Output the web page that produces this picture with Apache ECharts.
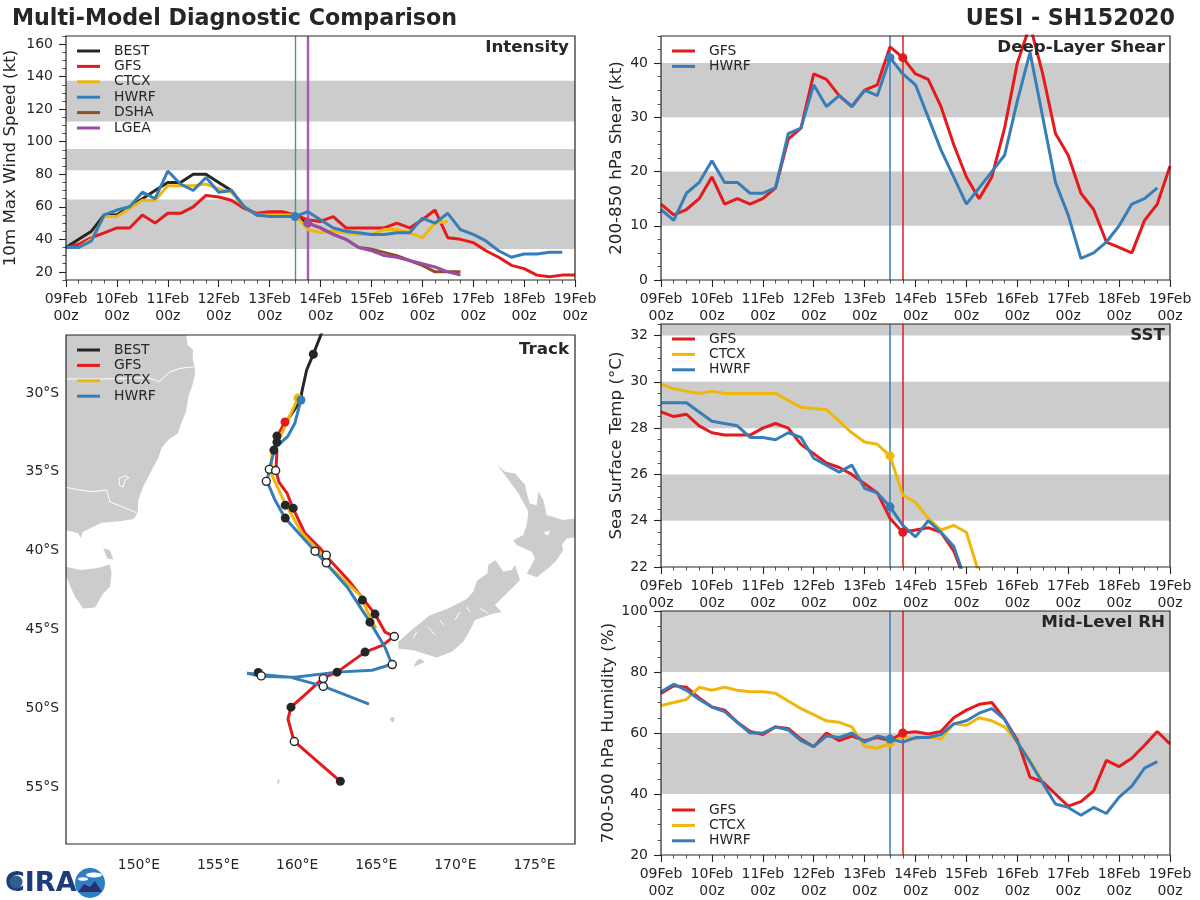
<!DOCTYPE html>
<html>
<head>
<meta charset="utf-8">
<title>UESI - SH152020</title>
<script src="https://cdn.jsdelivr.net/npm/echarts@6/dist/echarts.min.js"></script>
<style>
html,body{margin:0;padding:0;background:#fff}
#main{width:1200px;height:900px}
</style>
</head>
<body>
<div id="main"></div>
<script>
// hours since 09Feb 00z, every 6h
var hours = [0,6,12,18,24,30,36,42,48,54,60,66,72,78,84,90,96,102,108,114,120,126,132,138,144,150,156,162,168,174,180,186,192,198,204,210,216,222,228,234,240];
var dayTicks = [0,24,48,72,96,120,144,168,192,216,240];
var dayLabels = ['09Feb\n00z','10Feb\n00z','11Feb\n00z','12Feb\n00z','13Feb\n00z','14Feb\n00z','15Feb\n00z','16Feb\n00z','17Feb\n00z','18Feb\n00z','19Feb\n00z'];

// intensity (kt)
var intBest = [35,40,45,55,55,60,65,70,75,75,80,80,75,70,60,55,55,55,55,50];
var intGfs = [35,37,41,44,47,47,55,50,56,56,60,67,66,64,59,56,57,57,55,52,51,54,47,47,47,47,50,47,52,58,41,40,38,33,29,24,22,18,17,18,18];
var intCtcx = [35,35,40,54,54,59,64,64,73,73,73,74,71,69,60,55,55,55,55,46,44,45,44,43,43,46,46,44,41,50,51];
var intHwrf = [35,35,39,55,58,60,69,65,82,74,70,78,69,70,60,55,54,54,54,57,52,47,45,44,43,43,44,44,53,50,56,46,43,39,33,29,31,31,32,32];
var intDsha = [null,null,null,null,null,null,null,null,null,null,null,null,null,null,null,null,null,null,null,50,47,43,40,35,34,32,30,27,24,20,20,20];
var intLgea = [null,null,null,null,null,null,null,null,null,null,null,null,null,null,null,null,null,null,null,50,47,43,40,35,33,30,29,27,25,23,20,18];
var intBands = [[34,64.5],[82.5,95.5],[112.5,137.5]];
var intTicks = [20,40,60,80,100,120,140,160];

// deep-layer shear (kt)
var shearGfs = [14,12,13,15,19,14,15,14,15,17,26,28,38,37,34,32,35,36,43,41,38,37,32,25,19,15,19,28,40,47,38,27,23,16,13,7,6,5,11,14,21];
var shearHwrf = [13,11,16,18,22,18,18,16,16,17,27,28,36,32,34,32,35,34,41,38,36,30,24,19,14,17,20,23,33,42,30,18,12,4,5,7,10,14,15,17];
var shearBands = [[10,20],[30,40]];
var shearTicks = [0,10,20,30,40];

// sea surface temp (C)
var sstGfs = [28.7,28.5,28.6,28.1,27.8,27.7,27.7,27.7,28.0,28.2,28.0,27.3,26.9,26.5,26.3,26.0,25.6,25.2,24.1,23.5,23.6,23.7,23.5,22.7,21.3];
var sstCtcx = [29.9,29.7,29.6,29.5,29.6,29.5,29.5,29.5,29.5,29.5,29.2,28.9,28.85,28.8,28.3,27.8,27.4,27.3,26.8,25.1,24.8,24.1,23.6,23.8,23.5,21.7];
var sstHwrf = [29.1,29.1,29.1,28.7,28.3,28.2,28.1,27.6,27.6,27.5,27.8,27.6,26.7,26.4,26.1,26.4,25.4,25.2,24.6,23.8,23.3,24.0,23.5,22.9,21.3];
var sstBands = [[24,26],[28,30],[32,32.5]];
var sstTicks = [22,24,26,28,30,32];

// mid-level RH (%)
var rhGfs = [73,75.5,75,71.5,68.5,67.5,63.5,60.5,59.5,62,61.5,58,55.5,60,57.5,59,57.5,58.5,57.5,60,60.4,59.7,60.5,65,67.5,69.4,70,64.5,57.7,45.5,44,40,36,37.5,41,51,49,51.7,56,60.5,56.4];
var rhCtcx = [69,70,71,75,74,75,74,73.5,73.5,73,70.5,68,66,64,63.5,62,55.6,55,56.6,58.8,58,58.8,58,63,62.5,65,64,62,57,51,44];
var rhHwrf = [73.5,76,74,71,68.5,67,63.5,60,60,62,61,57.5,55.5,59,58.5,60,57,59,58,57,58.5,58.5,59.5,63,64,66.5,68,64.5,57,50.5,43.5,36.7,35.6,33,35.6,33.6,39,42.6,48.5,50.6];
var rhBands = [[40,60],[80,100]];
var rhTicks = [20,40,60,80,100];

// tracks, [lon, lat]
var trackBest = [[161.57,-26.13],[161.02,-27.54],[160.60,-28.54],[160.28,-30.0],[160.24,-30.44],[159.17,-32.03]];
var trackGfs = [[159.23,-31.84],[158.72,-32.79],[158.60,-33.43],[158.72,-33.74],[158.66,-34.89],[158.85,-35.65],[159.36,-36.35],[159.73,-37.30],[160.49,-38.88],[161.44,-39.83],[162.07,-40.60],[163.34,-41.99],[164.92,-44.02],[165.55,-45.16],[166.12,-45.42],[165.42,-45.99],[164.29,-46.43],[162.52,-47.70],[161.63,-48.08],[160.68,-48.97],[159.61,-49.92],[159.42,-50.68],[159.80,-52.08],[162.71,-54.62]];
var trackCtcx = [[160.05,-30.32],[159.42,-31.71],[158.91,-32.79],[158.41,-33.81],[158.34,-35.08],[159.23,-36.98],[160.30,-38.88],[161.76,-40.47],[162.07,-41.04],[163.97,-42.82],[164.60,-44.21],[164.98,-44.91]];
var trackHwrf = [[160.24,-30.44],[159.86,-31.90],[159.42,-32.73],[158.60,-33.49],[158.34,-34.44],[158.09,-35.58],[158.60,-36.79],[159.23,-37.93],[161.13,-40.03],[161.82,-40.79],[163.21,-42.37],[164.60,-44.53],[165.55,-46.12],[165.99,-47.20],[164.73,-47.58],[162.52,-47.70],[159.86,-48.02],[157.71,-47.96],[156.83,-47.77],[159.54,-48.02],[161.63,-48.59],[164.54,-49.73]];
var trackBlack = [[161.02,-27.54],[158.72,-32.73],[158.72,-33.11],[158.53,-33.62],[159.25,-37.11],[159.75,-37.30],[159.25,-37.93],[164.12,-43.13],[164.92,-44.02],[164.60,-44.53],[164.29,-46.43],[162.52,-47.70],[157.54,-47.72],[159.61,-49.92],[162.73,-54.62]];
var trackWhite = [[158.24,-34.84],[158.64,-34.91],[158.05,-35.60],[161.13,-40.03],[161.84,-40.28],[161.84,-40.77],[166.14,-45.44],[166.01,-47.22],[161.65,-48.11],[161.65,-48.61],[157.73,-47.94],[159.82,-52.10]];
var lonTicks = [150,155,160,165,170,175];
var latTicks = [-30,-35,-40,-45,-50,-55];

// land outlines, [lon, lat]
var australia = [[145.39,-26.32],[153.0,-26.32],[153.08,-26.95],[153.43,-27.27],[153.39,-27.78],[153.52,-28.33],[153.54,-28.86],[153.35,-29.60],[153.12,-30.23],[152.97,-31.19],[152.59,-32.14],[152.48,-32.54],[151.85,-32.98],[151.43,-33.49],[151.22,-34.12],[150.70,-35.08],[150.27,-35.95],[149.96,-36.79],[149.92,-37.59],[149.68,-37.99],[149.01,-38.10],[148.38,-38.17],[147.64,-38.23],[147.11,-38.48],[146.48,-38.80],[146.31,-39.20],[146.16,-38.90],[145.53,-38.74],[145.39,-38.72]];
var tasmania = [[145.39,-41.02],[146.27,-41.23],[147.33,-41.12],[148.17,-40.87],[148.27,-41.44],[148.17,-42.29],[147.74,-42.71],[147.22,-43.60],[146.48,-43.66],[145.95,-42.92],[145.58,-42.06],[145.39,-41.61]];
var flinders = [[147.74,-39.85],[148.17,-39.96],[148.38,-40.55],[148.0,-40.49]];
var nzNorth = [[172.61,-34.52],[173.13,-34.99],[173.77,-35.10],[174.42,-35.84],[174.46,-36.15],[174.70,-37.0],[175.14,-37.11],[175.24,-36.26],[175.56,-36.79],[175.77,-37.74],[176.82,-38.06],[177.56,-37.95],[177.56,-39.16],[177.04,-39.22],[176.72,-39.64],[176.82,-39.96],[176.40,-40.6],[175.87,-41.12],[175.14,-41.69],[174.51,-41.44],[175.03,-40.49],[174.82,-40.07],[173.87,-39.64],[173.66,-39.33],[174.29,-39.01],[174.51,-38.38],[174.61,-37.53],[174.51,-37.32],[173.98,-36.36],[173.13,-35.20]];
var nzSouth = [[172.50,-40.6],[172.08,-40.91],[172.02,-41.44],[171.38,-41.87],[171.13,-42.61],[170.71,-43.07],[169.55,-43.66],[168.39,-44.09],[167.34,-44.93],[166.39,-45.78],[166.39,-46.20],[167.34,-46.31],[168.82,-46.77],[169.77,-46.41],[170.50,-45.78],[170.92,-45.04],[171.24,-44.40],[172.40,-43.98],[172.93,-43.91],[172.50,-43.45],[173.24,-42.71],[174.08,-41.87],[173.77,-40.91],[173.56,-41.23],[173.03,-41.34],[172.61,-40.70]];
var stewart = [[167.76,-46.83],[168.08,-47.05],[167.34,-47.37],[167.55,-46.99]];
var aucklandIs = [[165.85,-50.6],[166.15,-50.55],[166.1,-50.9],[165.95,-50.85]];
var macquarie = [[158.78,-54.5],[158.9,-54.5],[158.85,-54.8],[158.75,-54.8]];
var taupo = [[175.6,-38.8],[175.95,-38.75],[175.9,-39.0],[175.7,-39.0]];
var landShapes = [australia,tasmania,flinders,nzNorth,nzSouth,stewart,aucklandIs,macquarie];
var borders = [
	[[145.39,-29.11],[147.74,-29.11],[150.59,-29.03],[151.28,-29.28],[151.96,-28.65],[152.59,-28.44],[153.48,-28.33]],
	[[145.39,-35.98],[146.27,-36.15],[147.11,-36.26],[147.96,-36.15],[148.17,-36.90],[149.85,-37.59]],
	[[148.75,-35.41],[149.12,-35.25],[149.37,-35.37],[149.12,-35.52],[149.01,-35.95],[148.75,-35.84],[148.75,-35.41]],
	[[168.29,-44.83],[168.71,-45.35]],
	[[169.03,-44.40],[169.24,-44.72]],
	[[169.97,-44.40],[170.29,-43.88]],
	[[170.71,-43.56],[170.92,-43.88]],
	[[171.55,-43.66],[172.08,-43.98]],
	[[167.55,-45.15],[167.34,-45.57]]
];

var BLACK = '#262626', RED = '#e41a1c', YELLOW = '#efb70e', BLUE = '#377eb8', BROWN = '#8f4f26', PURPLE = '#984ea3', GRAY = '#cccccc';
var FONT = 'DejaVu Sans';

var panels = [
	{left:66,top:36,width:509,height:244},
	{left:661,top:36,width:509,height:244},
	{left:661,top:324,width:509,height:243},
	{left:661,top:611,width:509,height:244},
	{left:66,top:335,width:509,height:509}
];

function timeAxis(i){
	return {
		type:'value', gridIndex:i, min:0, max:240, interval:24,
		axisLine:{show:false}, splitLine:{show:false},
		axisTick:{length:7,lineStyle:{color:BLACK,width:1.1}},
		minorTick:{show:true,splitNumber:4,length:3.5,lineStyle:{color:BLACK,width:0.8}},
		axisLabel:{color:BLACK,fontFamily:FONT,fontSize:14,lineHeight:17,margin:11,
			formatter:function(v){ return dayLabels[dayTicks.indexOf(v)]; }}
	};
}

// labelled ticks on one axis, short ticks on a second one in the same grid
function valueAxes(i,min,max,ticks,minorStep,name,nameGap){
	return [{
		type:'value', gridIndex:i, min:min, max:max, position:'left',
		name:name, nameLocation:'middle', nameGap:nameGap,
		nameTextStyle:{color:BLACK,fontFamily:FONT,fontSize:16.7},
		axisLine:{show:false}, splitLine:{show:false},
		axisTick:{length:7,customValues:ticks,lineStyle:{color:BLACK,width:1.1}},
		axisLabel:{color:BLACK,fontFamily:FONT,fontSize:14,margin:13,customValues:ticks}
	},{
		type:'value', gridIndex:i, min:min, max:max, interval:minorStep, position:'left',
		axisLine:{show:false}, splitLine:{show:false}, axisLabel:{show:false},
		axisTick:{length:3.5,lineStyle:{color:BLACK,width:0.8}}
	}];
}

function guides(i,bands,lines){
	return {
		type:'line', xAxisIndex:i, yAxisIndex:2*i, data:[], silent:true,
		markArea:{silent:true,itemStyle:{color:GRAY},
			data:bands.map(function(b){ return [{yAxis:b[0]},{yAxis:b[1]}]; })},
		markLine:{silent:true,symbol:'none',z:2,label:{show:false},animation:false,
			data:lines.map(function(l){ return {xAxis:l[0],lineStyle:{color:l[1],width:l[2],type:'solid',opacity:1}}; })}
	};
}

function modelLine(i,name,values,color,dotHour){
	return {
		type:'line', name:name, xAxisIndex:i, yAxisIndex:2*i,
		symbol:'none', showSymbol:true, showAllSymbol:true,
		lineStyle:{color:color,width:3}, itemStyle:{color:color},
		data:values.map(function(v,k){
			var item = {value:[hours[k],v]};
			if(hours[k] === dotHour){ item.symbol = 'circle'; item.symbolSize = 9; }
			return item;
		})
	};
}

function trackLine(name,points,color,dotted){
	return {
		type:'line', name:name, xAxisIndex:4, yAxisIndex:8,
		symbol:'none', showSymbol:true, showAllSymbol:true,
		lineStyle:{color:color,width:3}, itemStyle:{color:color},
		data:points.map(function(p,k){
			var item = {value:p};
			if(dotted && k === 0){ item.symbol = 'circle'; item.symbolSize = 9; }
			return item;
		})
	};
}

function legendAt(left,top,names){
	return {
		left:left, top:top, orient:'vertical', padding:0, itemGap:1.4,
		itemWidth:23, itemHeight:3, icon:'rect', selectedMode:false, data:names,
		textStyle:{color:BLACK,fontFamily:FONT,fontSize:13.9,padding:[0,0,0,9]}
	};
}

function panelTitle(text,right,top){
	return {text:text,right:right,top:top,padding:0,
		textStyle:{color:BLACK,fontFamily:FONT,fontSize:16.7,fontWeight:'bold'}};
}

var xAxes = [timeAxis(0),timeAxis(1),timeAxis(2),timeAxis(3),{
	type:'value', gridIndex:4, min:145.39, max:177.56,
	axisLine:{show:false}, splitLine:{show:false}, axisTick:{show:false},
	axisLabel:{color:BLACK,fontFamily:FONT,fontSize:13.9,margin:14,customValues:lonTicks,
		formatter:function(v){ return v+'°E'; }}
}];

var yAxes = [].concat(
	valueAxes(0,15,165,intTicks,5,'10m Max Wind Speed (kt)',47),
	valueAxes(1,0,45,shearTicks,2.5,'200-850 hPa Shear (kt)',36),
	valueAxes(2,22,32.5,sstTicks,0.5,'Sea Surface Temp (°C)',36),
	valueAxes(3,20,100,rhTicks,5,'700-500 hPa Humidity (%)',36),
	[{
		type:'value', gridIndex:4, min:-58.6, max:-26.32,
		axisLine:{show:false}, splitLine:{show:false}, axisTick:{show:false},
		axisLabel:{color:BLACK,fontFamily:FONT,fontSize:13.9,margin:7,customValues:latTicks,
			formatter:function(v){ return (-v)+'°S'; }}
	}]
);

var series = [
	// intensity
	guides(0,intBands,[[108,'#5a8f80',1.4],[114,'#a45db0',2.4]]),
	modelLine(0,'BEST',intBest,BLACK),
	modelLine(0,'GFS',intGfs,RED),
	modelLine(0,'CTCX',intCtcx,YELLOW),
	modelLine(0,'HWRF',intHwrf,BLUE,108),
	modelLine(0,'DSHA',intDsha,BROWN),
	modelLine(0,'LGEA',intLgea,PURPLE,114),
	// shear
	guides(1,shearBands,[[108,BLUE,1.5],[114,RED,1.5]]),
	modelLine(1,'GFS',shearGfs,RED,114),
	modelLine(1,'HWRF',shearHwrf,BLUE,108),
	// sst
	guides(2,sstBands,[[108,BLUE,1.5],[114,RED,1.5]]),
	modelLine(2,'GFS',sstGfs,RED,114),
	modelLine(2,'CTCX',sstCtcx,YELLOW,108),
	modelLine(2,'HWRF',sstHwrf,BLUE,108),
	// rh
	guides(3,rhBands,[[108,BLUE,1.5],[114,RED,1.5]]),
	modelLine(3,'GFS',rhGfs,RED,114),
	modelLine(3,'CTCX',rhCtcx,YELLOW,108),
	modelLine(3,'HWRF',rhHwrf,BLUE,108),
	// track map
	{
		type:'custom', xAxisIndex:4, yAxisIndex:8, clip:true, silent:true, z:1,
		data:landShapes.map(function(s,k){ return [s[0][0],s[0][1],k]; }),
		renderItem:function(params,api){
			return {type:'polygon',
				shape:{points:landShapes[api.value(2)].map(function(p){ return api.coord(p); })},
				style:{fill:GRAY,stroke:null}};
		}
	},
	{
		type:'custom', xAxisIndex:4, yAxisIndex:8, clip:true, silent:true, z:1,
		data:[[taupo[0][0],taupo[0][1]]],
		renderItem:function(params,api){
			return {type:'polygon',
				shape:{points:taupo.map(function(p){ return api.coord(p); })},
				style:{fill:'#fff',stroke:null}};
		}
	},
	{
		type:'custom', xAxisIndex:4, yAxisIndex:8, clip:true, silent:true, z:1,
		data:borders.map(function(s,k){ return [s[0][0],s[0][1],k]; }),
		renderItem:function(params,api){
			return {type:'polyline',
				shape:{points:borders[api.value(2)].map(function(p){ return api.coord(p); })},
				style:{fill:null,stroke:'#fff',lineWidth:1}};
		}
	},
	trackLine('BEST',trackBest,BLACK,false),
	trackLine('GFS',trackGfs,RED,true),
	trackLine('CTCX',trackCtcx,YELLOW,true),
	trackLine('HWRF',trackHwrf,BLUE,true),
	{type:'scatter',xAxisIndex:4,yAxisIndex:8,data:trackBlack,symbolSize:9,itemStyle:{color:BLACK,opacity:1},z:3},
	{type:'scatter',xAxisIndex:4,yAxisIndex:8,data:trackWhite,symbolSize:8,itemStyle:{color:'#fff',borderColor:BLACK,borderWidth:1.4,opacity:1},z:3}
];

// panel frames and the logo
var graphics = panels.map(function(p){
	return {type:'rect',z:100,silent:true,shape:{x:p.left,y:p.top,width:p.width,height:p.height},
		style:{fill:null,stroke:BLACK,lineWidth:1.2}};
}).concat([
	{type:'text',z:100,silent:true,x:5,y:870,style:{text:'CIRA',fill:'#1c3c7c',font:'bold 27px "DejaVu Sans"'}},
	{type:'circle',z:101,silent:true,shape:{cx:16,cy:882,r:6.5},style:{fill:'#2f5f8a'}},
	{type:'circle',z:101,silent:true,shape:{cx:90,cy:883,r:15},style:{fill:'#2c7fc4'}},
	{type:'ellipse',z:102,silent:true,shape:{cx:94,cy:875,rx:8,ry:2.5},style:{fill:'#fff'}},
	{type:'ellipse',z:102,silent:true,shape:{cx:83,cy:879,rx:5,ry:1.8},style:{fill:'#fff'}},
	{type:'polygon',z:102,silent:true,shape:{points:[[78,892],[84,884],[90,887],[95,881],[102,892]]},style:{fill:'#2d2f6e'}}
]);

var myChart = echarts.init(document.getElementById('main'));
var option = {
	animation:false,
	backgroundColor:'#fff',
	textStyle:{fontFamily:FONT},
	title:[
		{text:'Multi-Model Diagnostic Comparison',left:12,top:8,padding:0,
			textStyle:{color:BLACK,fontFamily:FONT,fontSize:22.2,fontWeight:'bold'}},
		{text:'UESI - SH152020',right:25,top:8,padding:0,
			textStyle:{color:BLACK,fontFamily:FONT,fontSize:22.2,fontWeight:'bold'}},
		panelTitle('Intensity',631,39),
		panelTitle('Deep-Layer Shear',35,39),
		panelTitle('SST',35,327),
		panelTitle('Mid-Level RH',35,614),
		panelTitle('Track',631,341)
	],
	legend:[
		legendAt(77,44,['BEST','GFS','CTCX','HWRF','DSHA','LGEA']),
		legendAt(672,44,['GFS','HWRF']),
		legendAt(672,332,['GFS','CTCX','HWRF']),
		legendAt(672,803,['GFS','CTCX','HWRF']),
		legendAt(77,343,['BEST','GFS','CTCX','HWRF'])
	],
	grid:panels,
	xAxis:xAxes,
	yAxis:yAxes,
	series:series,
	graphic:graphics
};
myChart.setOption(option);
</script>
</body>
</html>
